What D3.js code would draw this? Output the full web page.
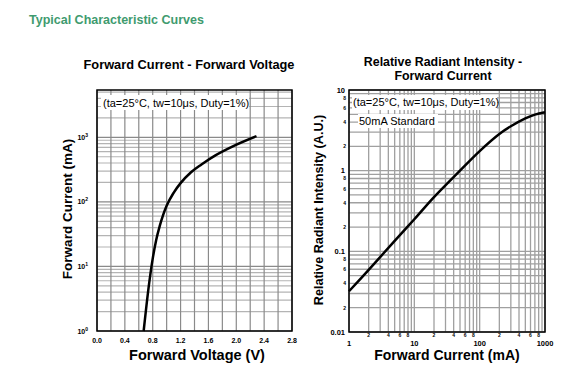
<!DOCTYPE html>
<html>
<head>
<meta charset="utf-8">
<script src="https://cdn.jsdelivr.net/npm/d3@7"></script>
<style>
    body { margin: 0; background: #fff; }
    svg { display: block; font-family: "Liberation Sans", Arial, sans-serif; }
</style>
</head>
<body>
<svg id="chart" width="583" height="384"></svg>
<script>
// forward voltage (V) vs forward current (mA)
const vfVoltage = [0.67, 0.75, 0.80, 0.85, 0.90, 0.95, 1.00, 1.10, 1.20, 1.35, 1.50, 1.70, 1.95, 2.29];
const vfCurrent = [1, 5.6, 13.2, 25.7, 42, 63, 87, 138, 195, 288, 380, 525, 724, 1040];
const vfVoltTicks = [0.0, 0.4, 0.8, 1.2, 1.6, 2.0, 2.4, 2.8];
const vfCurrentTicks = [1, 10, 100, 1000];

// forward current (mA) vs relative radiant intensity
const riCurrent = [1, 2, 5, 10, 20, 50, 100, 200, 300, 500, 700, 1000];
const riIntensity = [0.032, 0.059, 0.135, 0.25, 0.47, 1.0, 1.75, 2.85, 3.55, 4.45, 4.95, 5.3];
const riMajorX = [1, 10, 100, 1000];
const riMajorY = [0.01, 0.1, 1, 10];
const riMinorLabels = [2, 4, 6, 8];

const note = "(ta=25°C, tw=10μs, Duty=1%)";

const svg = d3.select("#chart");
const gridDark = "#8a8a8a";
const gridLight = "#b4b4b4";

// log grid values 1..9 per decade
function logGrid(lo, hi) {
    let out = [];
    for (let e = Math.floor(Math.log10(lo)); e <= Math.ceil(Math.log10(hi)); e++) {
        for (let m = 1; m < 10; m++) {
            const v = m * Math.pow(10, e);
            if (v >= lo * 0.999 && v <= hi * 1.001) out.push(v);
        }
    }
    return out;
}

// page title
svg.append("text")
    .attr("x", 29).attr("y", 24)
    .attr("font-size", 12.5).attr("font-weight", "bold")
    .attr("fill", "#3f9b6f")
    .text("Typical Characteristic Curves");

/*
left chart: forward current - forward voltage
*/
const x1 = d3.scaleLinear().domain([0, 2.8]).range([97, 292]);
const y1 = d3.scaleLog().domain([1, 5400]).range([331, 90]);

svg.append("text")
    .attr("x", 189).attr("y", 69)
    .attr("text-anchor", "middle")
    .attr("font-size", 12.8).attr("font-weight", "bold")
    .text("Forward Current - Forward Voltage");

let g1 = svg.append("g");

// horizontal log grid
g1.selectAll(".hgrid")
    .data(logGrid(1, 5400))
    .enter().append("line")
    .attr("x1", x1(0)).attr("x2", x1(2.8))
    .attr("y1", d => y1(d)).attr("y2", d => y1(d))
    .attr("stroke", d => vfCurrentTicks.includes(d) ? gridDark : gridLight)
    .attr("stroke-width", 1.2);

// vertical grid every 0.2 V
g1.selectAll(".vgrid")
    .data(d3.range(0, 15).map(i => i * 0.2))
    .enter().append("line")
    .attr("x1", d => x1(d)).attr("x2", d => x1(d))
    .attr("y1", y1(1)).attr("y2", y1(5400))
    .attr("stroke", gridDark)
    .attr("stroke-width", 1.2);

// frame
g1.append("rect")
    .attr("x", x1(0)).attr("y", y1(5400))
    .attr("width", x1(2.8) - x1(0)).attr("height", y1(1) - y1(5400))
    .attr("fill", "none").attr("stroke", "#000").attr("stroke-width", 1.5);

// note with white background
g1.append("rect")
    .attr("x", 101).attr("y", 95).attr("width", 148).attr("height", 15)
    .attr("fill", "#fff");
g1.append("text")
    .attr("x", 103).attr("y", 107)
    .attr("font-size", 11)
    .text(note);

// x tick labels
g1.selectAll(".xlab")
    .data(vfVoltTicks)
    .enter().append("text")
    .attr("x", d => x1(d)).attr("y", 343)
    .attr("text-anchor", "middle")
    .attr("font-size", 7).attr("font-weight", "bold")
    .text(d => d.toFixed(1));

// y tick labels 10^n
let ylab = g1.selectAll(".ylab")
    .data(vfCurrentTicks)
    .enter().append("text")
    .attr("x", 88).attr("y", d => y1(d) + 2.5)
    .attr("text-anchor", "end")
    .attr("font-size", 7).attr("font-weight", "bold");
ylab.append("tspan").text("10");
ylab.append("tspan")
    .attr("font-size", 5).attr("dy", -3)
    .text(d => Math.round(Math.log10(d)));

// curve
const line1 = d3.line()
    .x(d => x1(d[0]))
    .y(d => y1(d[1]))
    .curve(d3.curveMonotoneX);
g1.append("path")
    .datum(vfVoltage.map((v, i) => [v, vfCurrent[i]]))
    .attr("d", line1)
    .attr("fill", "none").attr("stroke", "#000").attr("stroke-width", 2.5);

// axis titles
g1.append("text")
    .attr("x", 197).attr("y", 360)
    .attr("text-anchor", "middle")
    .attr("font-size", 14.5).attr("font-weight", "bold")
    .text("Forward Voltage (V)");
g1.append("text")
    .attr("transform", "translate(72,209) rotate(-90)")
    .attr("text-anchor", "middle")
    .attr("font-size", 13.5).attr("font-weight", "bold")
    .text("Forward Current (mA)");

/*
right chart: relative radiant intensity - forward current
*/
const x2 = d3.scaleLog().domain([1, 1000]).range([349, 545]);
const y2 = d3.scaleLog().domain([0.01, 10]).range([332, 90]);

svg.append("text")
    .attr("x", 443).attr("y", 66)
    .attr("text-anchor", "middle")
    .attr("font-size", 12.4).attr("font-weight", "bold")
    .text("Relative Radiant Intensity -");
svg.append("text")
    .attr("x", 443).attr("y", 80)
    .attr("text-anchor", "middle")
    .attr("font-size", 12.4).attr("font-weight", "bold")
    .text("Forward Current");

let g2 = svg.append("g");

g2.selectAll(".hgrid")
    .data(logGrid(0.01, 10))
    .enter().append("line")
    .attr("x1", x2(1)).attr("x2", x2(1000))
    .attr("y1", d => y2(d)).attr("y2", d => y2(d))
    .attr("stroke", "#a0a0a0").attr("stroke-width", 1.3);

g2.selectAll(".vgrid")
    .data(logGrid(1, 1000))
    .enter().append("line")
    .attr("x1", d => x2(d)).attr("x2", d => x2(d))
    .attr("y1", y2(0.01)).attr("y2", y2(10))
    .attr("stroke", "#a0a0a0").attr("stroke-width", 1.3);

g2.append("rect")
    .attr("x", x2(1)).attr("y", y2(10))
    .attr("width", x2(1000) - x2(1)).attr("height", y2(0.01) - y2(10))
    .attr("fill", "none").attr("stroke", "#000").attr("stroke-width", 1.5);

// notes
g2.append("rect")
    .attr("x", 352).attr("y", 95).attr("width", 145).attr("height", 15)
    .attr("fill", "#fff");
g2.append("text")
    .attr("x", 353).attr("y", 106)
    .attr("font-size", 11)
    .text(note);
g2.append("rect")
    .attr("x", 358).attr("y", 114).attr("width", 80).attr("height", 14)
    .attr("fill", "#fff");
g2.append("text")
    .attr("x", 359).attr("y", 124.5)
    .attr("font-size", 11)
    .text("50mA Standard");

// major x labels
g2.selectAll(".xmaj")
    .data(riMajorX)
    .enter().append("text")
    .attr("x", d => x2(d)).attr("y", 346)
    .attr("text-anchor", "middle")
    .attr("font-size", 7.5).attr("font-weight", "bold")
    .text(d => d);

// minor x labels 2 4 6 8
g2.selectAll(".xmin")
    .data(d3.merge([1, 10, 100].map(b => riMinorLabels.map(m => m * b))))
    .enter().append("text")
    .attr("x", d => x2(d)).attr("y", 337)
    .attr("text-anchor", "middle")
    .attr("font-size", 5).attr("font-weight", "bold")
    .text(d => String(d)[0]);

// major y labels
g2.selectAll(".ymaj")
    .data(riMajorY)
    .enter().append("text")
    .attr("x", 345).attr("y", d => y2(d) + 2.5)
    .attr("text-anchor", "end")
    .attr("font-size", 7.5).attr("font-weight", "bold")
    .text(d => d);

// minor y labels
g2.selectAll(".ymin")
    .data(d3.merge([0.01, 0.1, 1].map(b => riMinorLabels.map(m => m * b))))
    .enter().append("text")
    .attr("x", 346).attr("y", d => y2(d) + 2)
    .attr("text-anchor", "end")
    .attr("font-size", 5).attr("font-weight", "bold")
    .text(d => String(Math.round(d / Math.pow(10, Math.floor(Math.log10(d) + 1e-9)))));

// curve
const line2 = d3.line()
    .x(d => x2(d[0]))
    .y(d => y2(d[1]))
    .curve(d3.curveCatmullRom);
g2.append("path")
    .datum(riCurrent.map((c, i) => [c, riIntensity[i]]))
    .attr("d", line2)
    .attr("fill", "none").attr("stroke", "#000").attr("stroke-width", 2.5);

// axis titles
g2.append("text")
    .attr("x", 447).attr("y", 360)
    .attr("text-anchor", "middle")
    .attr("font-size", 14).attr("font-weight", "bold")
    .text("Forward Current (mA)");
g2.append("text")
    .attr("transform", "translate(323,210) rotate(-90)")
    .attr("text-anchor", "middle")
    .attr("font-size", 12.6).attr("font-weight", "bold")
    .text("Relative Radiant Intensity (A.U.)");
</script>
</body>
</html>
